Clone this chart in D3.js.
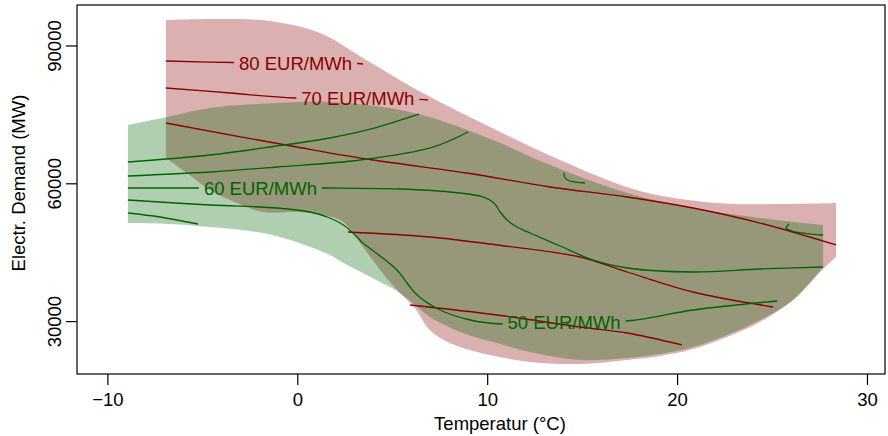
<!DOCTYPE html>
<html>
<head>
<meta charset="utf-8">
<script src="https://cdn.jsdelivr.net/npm/d3@7"></script>
<style>
  html, body { margin: 0; padding: 0; background: #ffffff; }
  svg { display: block; }
  text { font-family: "Liberation Sans", Arial, Helvetica, sans-serif; }
</style>
</head>
<body>
<svg id="chart" width="888" height="436"></svg>
<script>
// ---------------- data (temperature °C, demand MW) ----------------
const xTicks = [-10, 0, 10, 20, 30];
const yTicks = [30000, 60000, 90000];
const xTitle = "Temperatur (°C)";
const yTitle = "Electr. Demand (MW)";

// support region of the red surface
const redTop = [[-6.92,95550],[-4.07,95770],[-1.44,95330],[1.20,92720],[3.46,87280],[6.31,80310],
  [9.62,73350],[13.84,65070],[18.05,58320],[22.11,55710],[25.43,55490],[28.37,55710]];
const redBottom = [[28.37,43960],[27.64,41125],[26.11,34595],[24.37,29805],[22.63,26540],[20.84,23925],
  [19.10,22400],[17.37,21530],[14.89,20660],[12.26,21095],[10.15,22620],[8.73,24145],[7.52,26320],
  [6.83,28715],[6.31,32200],[5.78,34595],[5.25,36770],[4.36,41125],[3.46,46130],[2.41,51575],
  [1.35,53100],[-0.02,53750],[-1.81,53750],[-3.18,55710],[-4.60,58540],[-5.81,62240],[-6.92,65510]];

// support region of the green surface
const greenTop = [[-8.92,72690],[-6.86,74435],[-4.60,76390],[-1.07,77480],[1.72,77700],[3.67,77045],
  [5.41,75960],[7.15,74215],[8.94,71605],[10.68,68775],[13.31,63985],[17.37,57890],[20.84,54625],
  [24.37,52445],[27.69,50920]];
const greenBottom = [[27.69,41780],[26.11,34595],[24.37,30240],[22.63,26975],[20.84,24360],[19.10,22840],
  [17.37,21970],[14.89,21530],[12.26,23275],[10.52,25235],[8.73,27410],[6.99,30895],[6.09,33940],
  [5.25,36555],[4.36,38515],[3.46,40470],[2.62,42215],[1.72,44390],[0.83,45915],[-0.91,48310],
  [-2.49,49615],[-4.60,50485],[-6.71,51140],[-8.92,51360]];

// red contour lines
const red80 = [[-6.92,86625],[-3.39,86300],[3.20,86080],[3.46,85970]];
const red70 = [[-6.92,80745],[-3.54,79660],[-0.12,78570],[6.46,78290],[6.88,78135]];
const red65 = [[-6.92,73125],[-0.02,67900],[3.99,65070],[8.94,62240],[13.31,59195],[17.37,57020],
  [20.84,54625],[24.37,51355],[28.37,46570]];
const red55 = [[2.67,49400],[6.99,48310],[10.52,46570],[14.89,43955],[17.37,40690],[20.84,36335],[25.06,33070]];
const red45 = [[5.94,33505],[10.52,31330],[14.89,28715],[17.37,27410],[20.26,24800]];

// green contour lines
const green70 = [[-8.92,64635],[-4.60,66160],[-1.07,68120],[1.72,69860],[3.67,71605],[6.41,75085]];
const green65 = [[-8.92,61590],[-4.60,62460],[-1.07,63550],[3.30,65070],[7.15,67900],[8.99,71170]];
const green60 = [[-8.92,58975],[-5.28,58975],[1.35,58975],[5.41,58760],[8.04,58105],[9.78,57020],
  [10.36,55710],[10.68,53750],[11.05,52010],[11.57,50485],[12.26,49180],[13.84,46350],[15.58,43300],
  [17.37,41560],[20.84,40690],[24.37,41345],[27.69,41780]];
const green50 = [[-8.92,56365],[-4.60,55275],[-1.07,54625],[0.67,53750],[1.72,52445],[2.51,50705],
  [3.14,48310],[3.46,47000],[4.36,44175],[5.25,41125],[5.78,38295],[6.31,35680],[7.52,32420],
  [9.10,30240],[10.78,29370],[17.37,30025],[20.84,32420],[25.27,34375]];
const green45 = [[-8.92,53535],[-7.23,52665],[-5.23,51140]];
const greenHookA = [[14.05,62240],[14.10,61155],[14.36,60500],[15.15,60065]];
const greenHookB = [[25.90,51140],[25.74,50270],[26.06,49615],[27.69,48745]];

// contour labels
const labelText = ["80 EUR/MWh", "70 EUR/MWh", "60 EUR/MWh", "50 EUR/MWh"];
const labelT    = [-0.09, 3.19, -1.94, 14.05];
const labelV    = [86125, 78350, 58760, 29590];
const labelSet  = ["red", "red", "green", "green"];

// ---------------- drawing ----------------
const W = 888, H = 436;
const plot = {left: 77, right: 885, top: 5, bottom: 374};
const x = d3.scaleLinear().domain([-11.6, 30.95]).range([plot.left, plot.right]);
const y = d3.scaleLinear().domain([18485, 98816]).range([plot.bottom, plot.top]);

const RED = "#8B0000", GREEN = "#006400";
const FS = 18.5;
const svg = d3.select("#chart");

const smooth = d3.line().x(d => x(d[0])).y(d => y(d[1])).curve(d3.curveCatmullRom.alpha(0.5));
function region(top, bottom) {
  return smooth(top) + "L" + smooth(bottom).slice(1) + "Z";
}

svg.append("path").attr("d", region(redTop, redBottom))
  .attr("fill", RED).attr("fill-opacity", 0.31).attr("stroke", "none");
svg.append("path").attr("d", region(greenTop, greenBottom))
  .attr("fill", GREEN).attr("fill-opacity", 0.31).attr("stroke", "none");

// masks: each set's labels cut gaps only into that set's lines
const defs = svg.append("defs");
const masks = {};
["red", "green"].forEach(k => {
  const m = defs.append("mask").attr("id", "gap-" + k).attr("maskUnits", "userSpaceOnUse")
    .attr("x", 0).attr("y", 0).attr("width", W).attr("height", H);
  m.append("rect").attr("x", 0).attr("y", 0).attr("width", W).attr("height", H).attr("fill", "white");
  masks[k] = m;
});

const redLines = svg.append("g").attr("mask", "url(#gap-red)")
  .attr("fill", "none").attr("stroke-width", 1.3);
const greenLines = svg.append("g").attr("mask", "url(#gap-green)")
  .attr("fill", "none").attr("stroke-width", 1.3);
[red80, red70, red65, red55, red45].forEach(d =>
  redLines.append("path").attr("d", smooth(d)).attr("stroke", RED));
[green70, green65, green60, green50, green45, greenHookA, greenHookB].forEach(d =>
  greenLines.append("path").attr("d", smooth(d)).attr("stroke", GREEN));

const labelG = svg.append("g");
labelText.forEach((t, i) => {
  const tx = labelG.append("text")
    .attr("x", x(labelT[i])).attr("y", y(labelV[i]))
    .attr("dy", "0.35em")
    .attr("text-anchor", "middle")
    .attr("font-size", FS)
    .attr("fill", labelSet[i] === "red" ? RED : GREEN)
    .text(t);
  const b = tx.node().getBBox();
  masks[labelSet[i]].append("rect").attr("x", b.x - 5).attr("y", b.y).attr("width", b.width + 10)
    .attr("height", b.height).attr("fill", "black");
});

// box
svg.append("rect").attr("x", plot.left).attr("y", plot.top)
  .attr("width", plot.right - plot.left).attr("height", plot.bottom - plot.top)
  .attr("fill", "none").attr("stroke", "#000").attr("stroke-width", 1.2);

// axes
const xAxis = svg.append("g").attr("transform", `translate(0,${plot.bottom})`)
  .call(d3.axisBottom(x).tickValues(xTicks).tickSize(11).tickFormat(d3.format("d")));
xAxis.select(".domain").remove();
xAxis.selectAll(".tick line").attr("stroke", "#000").attr("stroke-width", 1.2);
xAxis.selectAll(".tick text").attr("y", 32).attr("dy", 0)
  .attr("font-size", FS).attr("fill", "#000")
  .attr("font-family", '"Liberation Sans", Arial, sans-serif');

const yAxis = svg.append("g").attr("transform", `translate(${plot.left},0)`)
  .call(d3.axisLeft(y).tickValues(yTicks).tickSize(11).tickFormat(d3.format("d")));
yAxis.select(".domain").remove();
yAxis.selectAll(".tick line").attr("stroke", "#000").attr("stroke-width", 1.2);
yAxis.selectAll(".tick text").attr("x", 0).attr("y", 0).attr("dy", 0)
  .attr("transform", "translate(-16,0) rotate(-90)")
  .attr("text-anchor", "middle")
  .attr("font-size", FS).attr("fill", "#000")
  .attr("font-family", '"Liberation Sans", Arial, sans-serif');

// titles
svg.append("text").attr("x", 500).attr("y", 430).attr("text-anchor", "middle")
  .attr("font-size", FS).attr("fill", "#000").text(xTitle);
svg.append("text").attr("transform", "translate(25,183) rotate(-90)").attr("text-anchor", "middle")
  .attr("font-size", FS).attr("fill", "#000").text(yTitle);
</script>
</body>
</html>
